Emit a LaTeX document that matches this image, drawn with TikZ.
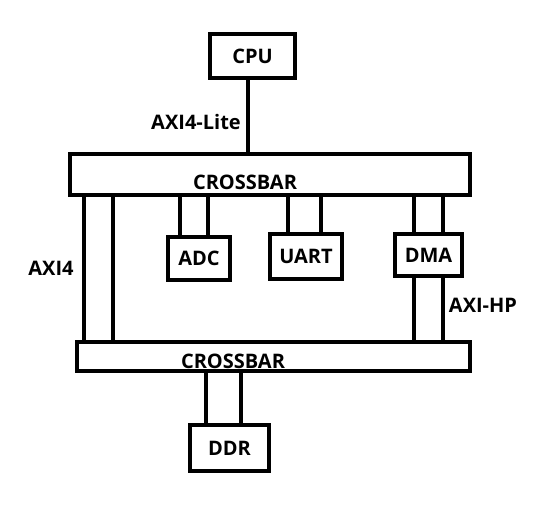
\documentclass[tikz,border=0pt]{standalone}
\usepackage{fontspec}
\setmainfont{Open Sans}
\usepackage{tikz}

\tikzset{block/.style={draw, rectangle, inner sep=0pt, font=\fontsize{20}{23}\selectfont\bfseries}}
\tikzset{bar/.style={draw, rectangle, inner sep=0pt}}
\tikzset{tag/.style={inner sep=0pt, font=\fontsize{20}{23}\selectfont\bfseries}}

\begin{document}
\begin{tikzpicture}[x=1pt, y=-1pt, line width=4pt]
\useasboundingbox (0,0) rectangle (553,508);

\node[block, minimum width=85pt, minimum height=44pt] (cpu) at (252.5,56) {CPU};
\node[bar, minimum width=400pt, minimum height=41pt] (xbarTop) at (270,174.5) {};
\node[tag] (xbarTopLbl) at (245,182) {CROSSBAR};

\node[block, minimum width=62pt, minimum height=43pt] (adc) at (199,258.5) {ADC};
\node[block, minimum width=72pt, minimum height=45pt] (uart) at (306,256.5) {UART};
\node[block, minimum width=67pt, minimum height=42pt] (dma) at (428.5,255) {DMA};

\node[bar, minimum width=393pt, minimum height=29pt] (xbarBot) at (273.5,356.5) {};
\node[tag] (xbarBotLbl) at (233,361) {CROSSBAR};

\node[block, minimum width=79pt, minimum height=46pt] (ddr) at (229.5,448) {DDR};

% labels on the links
\node[tag] (lite) at (196,122) {AXI4-Lite};
\node[tag] (axi) at (51,268) {AXI4};
\node[tag] (hp) at (483,305) {AXI-HP};

% cpu to top crossbar
\draw ([xshift=-4.5pt]cpu.south) -- ([xshift=-4.5pt]cpu.south |- xbarTop.north);

% top crossbar to peripherals
\foreach \n/\dx in {adc/-19, adc/9, uart/-18, uart/15, dma/-14.5, dma/14.5}
  \draw ([xshift=\dx pt]\n.north) -- ([xshift=\dx pt]\n.north |- xbarTop.south);

% AXI4 links between the crossbars
\foreach \dx in {-186, -157}
  \draw ([xshift=\dx pt]xbarTop.south) -- ([xshift=\dx pt]xbarTop.south |- xbarBot.north);

% dma to bottom crossbar
\foreach \dx in {-14.5, 14.5}
  \draw ([xshift=\dx pt]dma.south) -- ([xshift=\dx pt]dma.south |- xbarBot.north);

% bottom crossbar to ddr
\foreach \dx in {-23.5, 11.5}
  \draw ([xshift=\dx pt]ddr.north) -- ([xshift=\dx pt]ddr.north |- xbarBot.south);

\end{tikzpicture}
\end{document}
